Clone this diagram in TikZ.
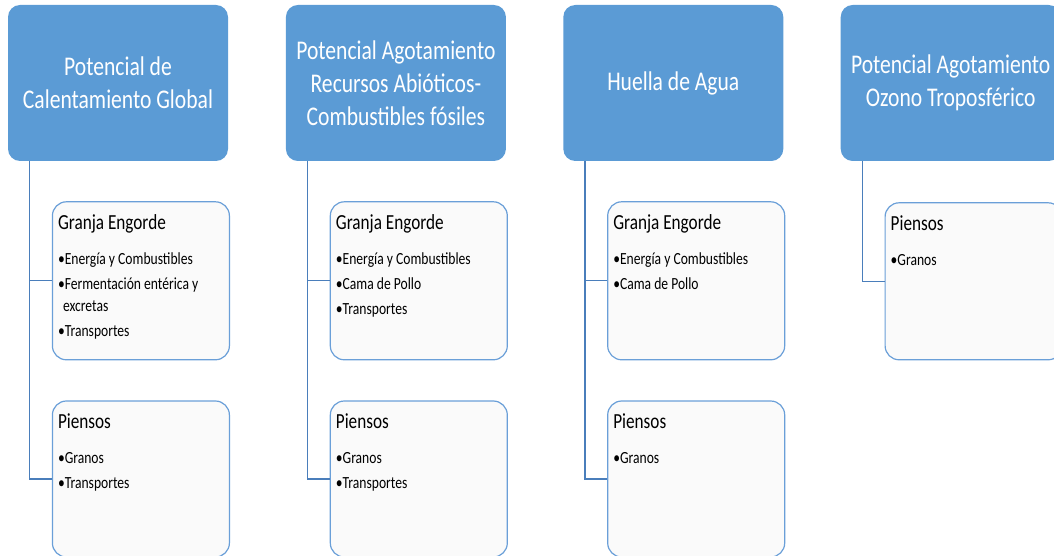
\documentclass[tikz,border=0pt]{standalone}
\usepackage{fontspec}
\setmainfont{Carlito}
\newfontfamily\diagfont{Carlito}[FakeStretch=0.8]
\usetikzlibrary{positioning}
\definecolor{topblue}{HTML}{5B9BD5}
\definecolor{subedge}{HTML}{6A9FD8}
\definecolor{linkblue}{HTML}{4A7EBB}
\newcommand{\itemlist}[1]{\begin{tabular}[t]{@{}l@{}}#1\end{tabular}}

\begin{document}
\begin{tikzpicture}[x=1pt,y=-1pt,
  every node/.style={inner sep=0pt},
  cat/.style={fill=topblue,rounded corners=12pt,minimum width=220pt,minimum height=156pt,
    align=center,text=white,font=\diagfont\fontsize{27}{33}\selectfont},
  sub/.style={draw=subedge,line width=1.2pt,fill=black!2,rounded corners=14pt,minimum width=177pt},
  subtitle/.style={anchor=base west,font=\diagfont\fontsize{21.5}{26}\selectfont},
  items/.style={anchor=base west,font=\diagfont\fontsize{17}{22}\selectfont},
  link/.style={draw=linkblue,line width=1.3pt}]
  \useasboundingbox (0,0) rectangle (1054,556);
  \clip (0,0) rectangle (1054,556);

  % categories
  \node[cat] (pcg) at (118,83) {Potencial de\\Calentamiento Global};
  \node[cat,right=57.5pt of pcg] (pag) {Potencial Agotamiento\\Recursos Abióticos-\\Combustibles fósiles};
  \node[cat,right=57pt of pag] (hda) {Huella de Agua};
  \node[cat,right=57pt of hda] (pot) {Potencial Agotamiento\\Ozono Troposférico};

  % sub boxes
  \node[sub,minimum height=158pt,below right=40pt and 44pt of pcg.south west] (pcg-g) {};
  \node[sub,minimum height=156pt,below=40pt of pcg-g] (pcg-p) {};
  \node[sub,minimum height=158pt,below right=40pt and 44pt of pag.south west] (pag-g) {};
  \node[sub,minimum height=156pt,below=40pt of pag-g] (pag-p) {};
  \node[sub,minimum height=158pt,below right=40pt and 44pt of hda.south west] (hda-g) {};
  \node[sub,minimum height=156pt,below=40pt of hda-g] (hda-p) {};
  \node[sub,minimum height=157pt,below right=41pt and 44pt of pot.south west] (pot-p) {};

  % texts
  \node[subtitle] at ([shift={(6,28)}]pcg-g.north west) {Granja Engorde};
  \node[items] at ([shift={(6,63)}]pcg-g.north west)
    {\itemlist{•Energía y Combustibles\\[3pt]•Fermentación entérica y\\\hspace*{5pt}excretas\\[3pt]•Transportes}};
  \node[subtitle] at ([shift={(6,28)}]pcg-p.north west) {Piensos};
  \node[items] at ([shift={(6,63)}]pcg-p.north west) {\itemlist{•Granos\\[3pt]•Transportes}};

  \node[subtitle] at ([shift={(6,28)}]pag-g.north west) {Granja Engorde};
  \node[items] at ([shift={(6,63)}]pag-g.north west)
    {\itemlist{•Energía y Combustibles\\[3pt]•Cama de Pollo\\[3pt]•Transportes}};
  \node[subtitle] at ([shift={(6,28)}]pag-p.north west) {Piensos};
  \node[items] at ([shift={(6,63)}]pag-p.north west) {\itemlist{•Granos\\[3pt]•Transportes}};

  \node[subtitle] at ([shift={(6,28)}]hda-g.north west) {Granja Engorde};
  \node[items] at ([shift={(6,63)}]hda-g.north west)
    {\itemlist{•Energía y Combustibles\\[3pt]•Cama de Pollo}};
  \node[subtitle] at ([shift={(6,28)}]hda-p.north west) {Piensos};
  \node[items] at ([shift={(6,63)}]hda-p.north west) {\itemlist{•Granos}};

  \node[subtitle] at ([shift={(6,28)}]pot-p.north west) {Piensos};
  \node[items] at ([shift={(6,63)}]pot-p.north west) {\itemlist{•Granos}};

  % connectors
  \draw[link] ([xshift=22pt]pcg.south west) |- (pcg-g.west);
  \draw[link] ([xshift=22pt]pcg.south west) |- (pcg-p.west);
  \draw[link] ([xshift=22pt]pag.south west) |- (pag-g.west);
  \draw[link] ([xshift=22pt]pag.south west) |- (pag-p.west);
  \draw[link] ([xshift=22pt]hda.south west) |- (hda-g.west);
  \draw[link] ([xshift=22pt]hda.south west) |- (hda-p.west);
  \draw[link] ([xshift=22pt]pot.south west) |- (pot-p.west);
\end{tikzpicture}
\end{document}
